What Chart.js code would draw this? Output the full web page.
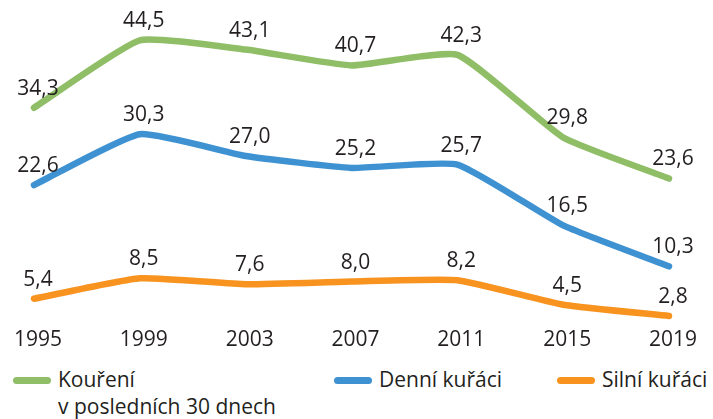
<!DOCTYPE html>
<html>
<head>
<meta charset="utf-8">
<script src="https://cdn.jsdelivr.net/npm/chart.js@4.4.0/dist/chart.umd.min.js"></script>
<style>
    html, body { margin: 0; padding: 0; background: #fff; }
    #wrap { position: relative; width: 713px; height: 419px; font-family: "Open Sans", sans-serif; color: #231f20; }
    #chart-box { position: absolute; left: 0; top: 0; width: 713px; height: 353px; }
    .legend-item { position: absolute; top: 366px; font-size: 21px; line-height: 27px; }
    .legend-item .swatch { position: absolute; left: 0; top: 11px; width: 38px; height: 7px; border-radius: 4px; }
    .legend-item .text { position: absolute; left: 45px; top: 0; white-space: pre; }
</style>
</head>
<body>
<div id="wrap">
    <div id="chart-box"><canvas id="chart"></canvas></div>
    <div id="legend"></div>
</div>
<script>
const years = ['1995', '1999', '2003', '2007', '2011', '2015', '2019'];
const seriesNames = ['Kouření\nv posledních 30 dnech', 'Denní kuřáci', 'Silní kuřáci'];
const smoking30 = [34.3, 44.5, 43.1, 40.7, 42.3, 29.8, 23.6];
const dailySmokers = [22.6, 30.3, 27.0, 25.2, 25.7, 16.5, 10.3];
const heavySmokers = [5.4, 8.5, 7.6, 8.0, 8.2, 4.5, 2.8];
const colors = ['#8fbe67', '#3f92d2', '#f7931e'];
const legendLeft = [13, 334, 557];

const textColor = '#231f20';
const fontFamily = '"Open Sans", sans-serif';

// labels above every point, comma as decimal mark
const valueLabels = {
    id: 'valueLabels',
    afterDatasetsDraw(chart) {
        const ctx = chart.ctx;
        ctx.save();
        ctx.font = '21px ' + fontFamily;
        ctx.fillStyle = textColor;
        ctx.textAlign = 'center';
        ctx.textBaseline = 'alphabetic';
        chart.data.datasets.forEach((ds, i) => {
            chart.getDatasetMeta(i).data.forEach((pt, j) => {
                const txt = ds.data[j].toFixed(1).replace('.', ',');
                ctx.fillText(txt, pt.x + 4, pt.y - 13);
            });
        });
        ctx.restore();
    }
};

const datasets = [smoking30, dailySmokers, heavySmokers].map((values, i) => ({
    label: seriesNames[i],
    data: values,
    borderColor: colors[i],
    backgroundColor: colors[i],
    borderWidth: 6.5,
    borderCapStyle: 'round',
    borderJoinStyle: 'round',
    pointRadius: 0,
    tension: 0.15,
    clip: false
}));

new Chart(document.getElementById('chart'), {
    type: 'line',
    data: { labels: years, datasets: datasets },
    plugins: [valueLabels],
    options: {
        responsive: true,
        maintainAspectRatio: false,
        animation: false,
        layout: { padding: { left: 34, right: 44, top: 4, bottom: 0 } },
        plugins: {
            legend: { display: false },
            tooltip: { enabled: false }
        },
        scales: {
            x: {
                offset: false,
                grid: { display: false, drawTicks: false },
                border: { display: false },
                ticks: {
                    color: textColor,
                    font: { family: fontFamily, size: 21 },
                    padding: 0,
                    labelOffset: 4,
                    maxRotation: 0,
                    autoSkip: false
                }
            },
            y: {
                display: false,
                min: 1,
                max: 50
            }
        }
    }
});

// html legend so the first label can wrap onto two lines
const legend = document.getElementById('legend');
seriesNames.forEach((name, i) => {
    const item = document.createElement('div');
    item.className = 'legend-item';
    item.style.left = legendLeft[i] + 'px';
    const sw = document.createElement('span');
    sw.className = 'swatch';
    sw.style.background = colors[i];
    const tx = document.createElement('span');
    tx.className = 'text';
    tx.textContent = name;
    item.appendChild(sw);
    item.appendChild(tx);
    legend.appendChild(item);
});
</script>
</body>
</html>
